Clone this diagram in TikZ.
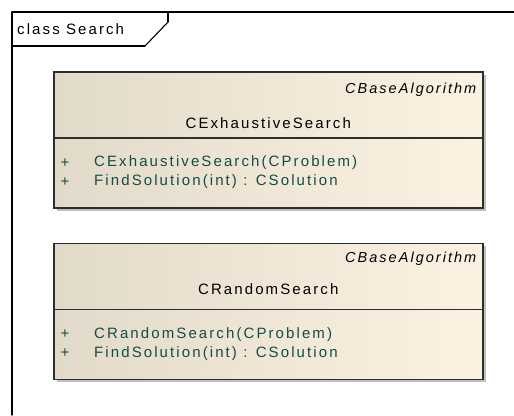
\documentclass[tikz,border=0pt]{standalone}
\usepackage{fontspec}
\setmainfont{Liberation Sans}
\newfontfamily\umlfont[LetterSpace=14]{Liberation Sans}
\usepackage{tkz-euclide}
\usetikzlibrary{calc}
\usetikzlibrary{shadows}
\usetikzlibrary{positioning}

\definecolor{boxl}{RGB}{226,218,200}
\definecolor{boxr}{RGB}{252,242,226}
\definecolor{boxline}{RGB}{46,46,46}
\definecolor{optext}{RGB}{20,76,76}

\begin{document}
\begin{tikzpicture}[x=1pt,y=-1pt]
\useasboundingbox (0,0) rectangle (514,415);
\tikzset{classbox/.style={
           draw=boxline,
           line width=1.5pt,
           left color=boxl,
           right color=boxr,
           minimum width=429pt,
           minimum height=136pt,
           inner sep=0pt,
           drop shadow={shadow xshift=3pt,shadow yshift=-3pt,fill=black!25,opacity=1},
           },
         umltext/.style={inner sep=0pt,font=\umlfont\fontsize{15}{17}\selectfont},
         stereo/.style={umltext,font=\umlfont\itshape\fontsize{14.5}{17}\selectfont},
         oper/.style={umltext,text=optext},
         divline/.style={draw=boxline,line width=1.5pt}
         }
%==========================================
% frame and its name tab
\tkzDefPoint[](12,12){a};
\tkzDefPoint[](514,12){b};
\tkzDefPoint[](12,415){c};
\tkzDefPoint[](12,46){t};
\tkzDefPoint[](145,46){u};
\tkzDefPoint[](168,22){v};
\tkzDefPoint[](168,12){w};
\tkzDrawSegments[line width=1.1pt,color=black](a,b a,c t,u u,v v,w);
\node[umltext,anchor=west] (frm) at (17,29) {class Search};
%==========================================
% CExhaustiveSearch
\node[classbox,anchor=north west] (exh) at (53,71) {};
\coordinate (exhdl) at ($(exh.north west)+(0,67)$);
\coordinate (exhdr) at ($(exh.north east)+(0,67)$);
\draw[divline] (exhdl) -- (exhdr);
\node[stereo,anchor=east] (exhst) at ($(exh.north east)+(-7,19)$) {CBaseAlgorithm};
\node[umltext] (exhnm) at ($(exh.north)+(0,52)$) {CExhaustiveSearch};
\node[oper] (exhp1) at ($(exh.north west)+(12,92)$) {+};
\node[oper,anchor=west] (exhop1) at ($(exh.north west)+(41,92)$) {CExhaustiveSearch(CProblem)};
\node[oper] (exhp2) at ($(exh.north west)+(12,111)$) {+};
\node[oper,anchor=west] (exhop2) at ($(exh.north west)+(41,111)$) {FindSolution(int) : CSolution};
%==========================================
% CRandomSearch
\node[classbox,below=34pt of exh.south west,anchor=north west] (rnd) {};
\coordinate (rnddl) at ($(rnd.north west)+(0,67)$);
\coordinate (rnddr) at ($(rnd.north east)+(0,67)$);
\draw[divline] (rnddl) -- (rnddr);
\node[stereo,anchor=east] (rndst) at ($(rnd.north east)+(-7,16)$) {CBaseAlgorithm};
\node[umltext] (rndnm) at ($(rnd.north)+(0,47)$) {CRandomSearch};
\node[oper] (rndp1) at ($(rnd.north west)+(12,92)$) {+};
\node[oper,anchor=west] (rndop1) at ($(rnd.north west)+(41,92)$) {CRandomSearch(CProblem)};
\node[oper] (rndp2) at ($(rnd.north west)+(12,111)$) {+};
\node[oper,anchor=west] (rndop2) at ($(rnd.north west)+(41,111)$) {FindSolution(int) : CSolution};
\end{tikzpicture}
\end{document}
